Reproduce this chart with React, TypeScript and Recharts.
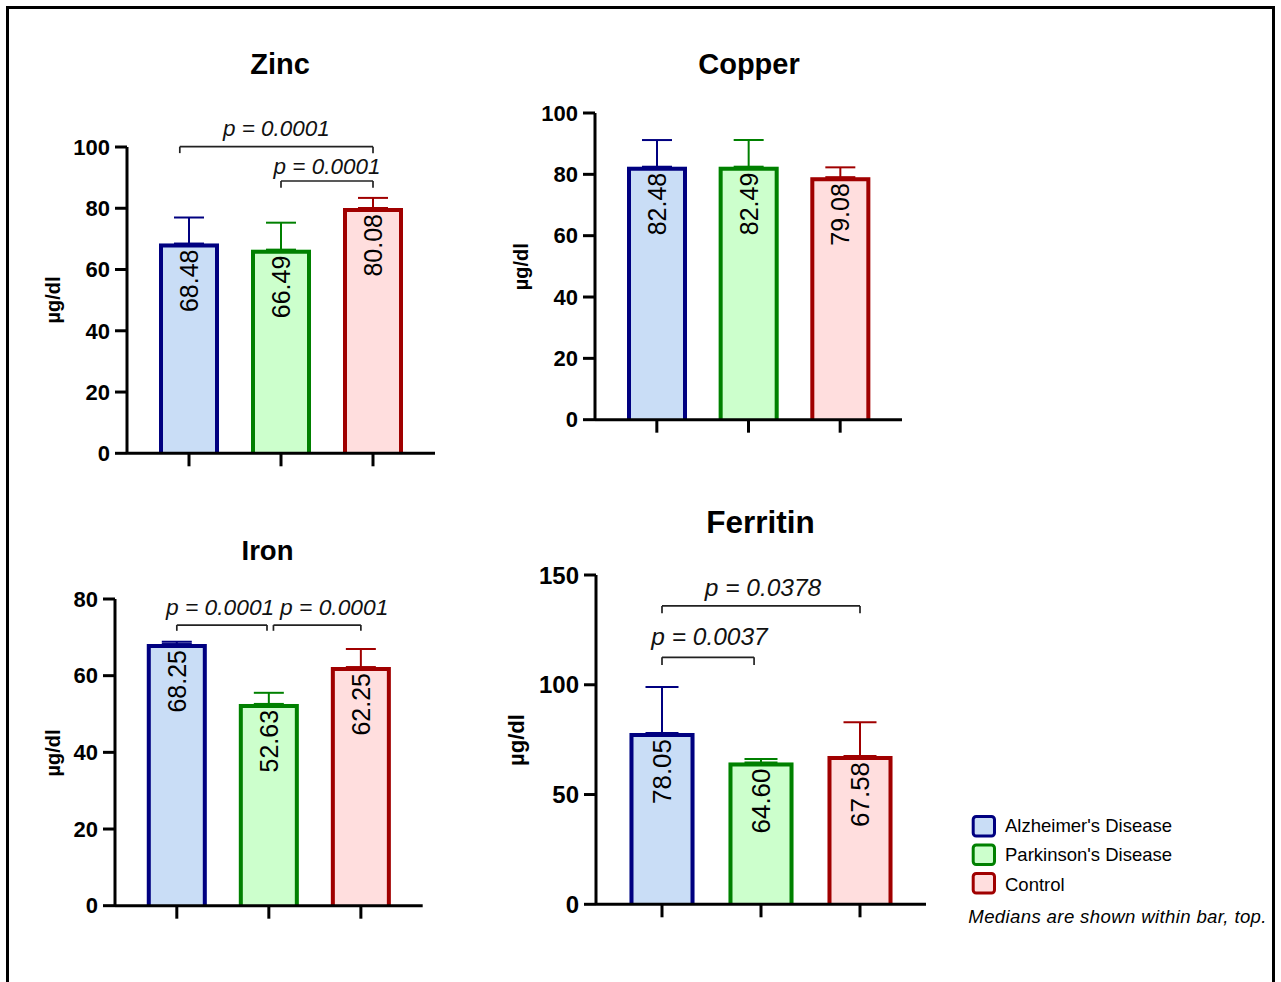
import React from 'react';
import { BarChart, Bar, XAxis, YAxis, ErrorBar, LabelList, ReferenceLine, ReferenceDot } from 'recharts';

// ---- data ----
const groupNames = ["Alzheimer's Disease", "Parkinson's Disease", 'Control'];
const groupKeys = ['AD', 'PD', 'CTL'];

const zincMedians = [68.48, 66.49, 80.08];
const zincUpperErr = [8.5, 8.8, 3.3];
const copperMedians = [82.48, 82.49, 79.08];
const copperUpperErr = [8.7, 8.7, 3.2];
const ironMedians = [68.25, 52.63, 62.25];
const ironUpperErr = [0.6, 2.9, 4.7];
const ferritinMedians = [78.05, 64.6, 67.58];
const ferritinUpperErr = [20.9, 1.6, 15.3];

const zincTicks = [0, 20, 40, 60, 80, 100];
const copperTicks = [0, 20, 40, 60, 80, 100];
const ironTicks = [0, 20, 40, 60, 80];
const ferritinTicks = [0, 50, 100, 150];

// significance brackets: from/to in group index units, y = bracket height, drop = tick length, label position
const zincBrackets = [
  { from: -0.1, to: 2, y: 100.1, drop: 2.1, p: 'p = 0.0001', tx: 0.95, ty: 103.6 },
  { from: 1, to: 2, y: 88.9, drop: 2.2, p: 'p = 0.0001', tx: 1.5, ty: 91.3 },
];
const copperBrackets: any[] = [];
const ironBrackets = [
  { from: 0, to: 0.98, y: 73.2, drop: 1.5, p: 'p = 0.0001', tx: 0.47, ty: 75.8 },
  { from: 1.05, to: 2, y: 73.2, drop: 1.5, p: 'p = 0.0001', tx: 1.71, ty: 75.8 },
];
const ferritinBrackets = [
  { from: 0, to: 2, y: 135.9, drop: 3.3, p: 'p = 0.0378', tx: 1.02, ty: 140.4 },
  { from: 0, to: 0.93, y: 112.5, drop: 3.5, p: 'p = 0.0037', tx: 0.48, ty: 118.1 },
];

// ---- styles ----
const groupFills = ['#c9ddf6', '#ccffcc', '#ffdede'];
const groupStrokes = ['#000080', '#008000', '#a00000'];
const FONT = '"Liberation Sans", Arial, Helvetica, sans-serif';

type PanelProps = {
  values: number[];
  errs: number[];
  brackets: any[];
  domain: [number, number];
  ticks: number[];
  box: { L: number; T: number; R: number; B: number };
  pad: number;
  barSize: number;
  tickFont: number;
  valueFont: number;
  pFont: number;
  capHalf: number;
};

function Panel({ values, errs, brackets, domain, ticks, box, pad, barSize, tickFont, valueFont, pFont, capHalf }: PanelProps) {
  const { L, T, R, B } = box;
  const mTop = 110, mLeft = 20, yW = 80, mRight = 10, mBottom = 10, xH = 30;
  const width = R - L + mLeft + yW + mRight;
  const height = B - T + mTop + mBottom + xH;
  const plotW = R - L;
  const band = (plotW - 2 * pad) / 3;
  const d0 = -0.5 - pad / band;
  const d1 = 2.5 + pad / band;
  const data = values.map((v, i) => {
    const row: any = { group: groupKeys[i], idx: i, value: v };
    row['err' + groupKeys[i]] = [0, errs[i]];
    return row;
  });

  const renderBar = (p: any) => {
    const i = p.index;
    const sw = 4;
    const x0 = p.x + sw / 2;
    const x1 = p.x + p.width - sw / 2;
    const yt = p.y + sw / 2;
    const yb = p.y + p.height;
    return (
      <g>
        <rect x={p.x} y={p.y} width={p.width} height={p.height} fill={groupFills[i]} stroke="none" />
        <path d={`M${x0},${yb} L${x0},${yt} L${x1},${yt} L${x1},${yb}`} fill="none" stroke={groupStrokes[i]} strokeWidth={sw} strokeLinejoin="miter" />
      </g>
    );
  };

  const renderValueLabel = (props: any) => {
    const { x, y, width: w, value } = props;
    const cx = Number(x) + Number(w) / 2;
    const ty = Number(y) + 6;
    return (
      <text
        x={cx}
        y={ty}
        transform={`rotate(-90 ${cx} ${ty})`}
        textAnchor="end"
        dominantBaseline="central"
        fontSize={valueFont}
        fontFamily={FONT}
        fill="#000"
      >
        {Number(value).toFixed(2)}
      </text>
    );
  };

  const bracketEls: any[] = [];
  brackets.forEach((b, i) => {
    const st = { stroke: '#222', strokeWidth: 1.7 };
    bracketEls.push(
      <ReferenceLine key={`h${i}`} xAxisId="n" ifOverflow="visible" segment={[{ x: b.from, y: b.y }, { x: b.to, y: b.y }]} {...st} />,
      <ReferenceLine key={`l${i}`} xAxisId="n" ifOverflow="visible" segment={[{ x: b.from, y: b.y }, { x: b.from, y: b.y - b.drop }]} {...st} />,
      <ReferenceLine key={`r${i}`} xAxisId="n" ifOverflow="visible" segment={[{ x: b.to, y: b.y }, { x: b.to, y: b.y - b.drop }]} {...st} />,
      <ReferenceDot
        key={`t${i}`}
        xAxisId="n"
        x={b.tx}
        y={b.ty}
        r={0}
        fill="none"
        stroke="none"
        ifOverflow="visible"
        label={{ value: b.p, position: 'top', offset: 0, fontSize: pFont, fontStyle: 'italic', fill: '#111', fontFamily: FONT }}
      />
    );
  });

  return (
    <div style={{ position: 'absolute', left: L - mLeft - yW, top: T - mTop }}>
      <BarChart width={width} height={height} data={data} margin={{ top: mTop, left: mLeft, right: mRight, bottom: mBottom }}>
        <XAxis
          dataKey="group"
          type="category"
          padding={{ left: pad, right: pad }}
          height={xH}
          tickSize={13}
          interval={0}
          tickFormatter={() => ''}
          axisLine={{ stroke: '#000', strokeWidth: 3 }}
          tickLine={{ stroke: '#000', strokeWidth: 3 }}
        />
        <XAxis xAxisId="n" type="number" dataKey="idx" domain={[d0, d1]} hide allowDataOverflow />
        <YAxis
          domain={domain}
          ticks={ticks}
          width={yW}
          interval={0}
          allowDataOverflow
          tickSize={12}
          tickMargin={5}
          tick={{ fontSize: tickFont, fontWeight: 'bold', fill: '#000', fontFamily: FONT }}
          axisLine={{ stroke: '#000', strokeWidth: 3 }}
          tickLine={{ stroke: '#000', strokeWidth: 3 }}
        />
        <Bar dataKey="value" barSize={barSize} isAnimationActive={false} shape={renderBar}>
          {groupKeys.map((k, i) => (
            <ErrorBar key={k} dataKey={'err' + k} width={capHalf} strokeWidth={2} stroke={groupStrokes[i]} direction="y" isAnimationActive={false} />
          ))}
          <LabelList dataKey="value" content={renderValueLabel} />
        </Bar>
        {bracketEls}
      </BarChart>
    </div>
  );
}

function Overlay() {
  return (
    <svg width={1281} height={982} style={{ position: 'absolute', left: 0, top: 0 }} fontFamily={FONT}>
      <rect x={7.5} y={7.5} width={1266} height={1010} fill="none" stroke="#000" strokeWidth={3} />
      {/* titles */}
      <text x={280} y={74} textAnchor="middle" fontSize={29} fontWeight="bold">Zinc</text>
      <text x={749} y={74} textAnchor="middle" fontSize={29} fontWeight="bold">Copper</text>
      <text x={267.5} y={560} textAnchor="middle" fontSize={27.5} fontWeight="bold">Iron</text>
      <text x={760.5} y={533} textAnchor="middle" fontSize={31.5} fontWeight="bold">Ferritin</text>
      {/* y labels */}
      <text x={59.5} y={300} transform="rotate(-90 59.5 300)" textAnchor="middle" fontSize={20} fontWeight="bold">µg/dl</text>
      <text x={528} y={266.7} transform="rotate(-90 528 266.7)" textAnchor="middle" fontSize={20} fontWeight="bold">µg/dl</text>
      <text x={59.5} y={753} transform="rotate(-90 59.5 753)" textAnchor="middle" fontSize={20} fontWeight="bold">µg/dl</text>
      <text x={524} y={740} transform="rotate(-90 524 740)" textAnchor="middle" fontSize={22} fontWeight="bold">µg/dl</text>
      {/* legend */}
      {groupNames.map((name, i) => (
        <g key={name}>
          <rect x={973.2} y={816.5 + i * 28.5} width={21.3} height={19.5} rx={3} fill={groupFills[i]} stroke={groupStrokes[i]} strokeWidth={3} />
          <text x={1005} y={831.7 + i * 29.6} fontSize={18.5} fill="#000">{name}</text>
        </g>
      ))}
      <text x={968.3} y={923.3} fontSize={18.6} letterSpacing={0.36} fontStyle="italic" fill="#000">Medians are shown within bar, top.</text>
    </svg>
  );
}

export default function App() {
  return (
    <div style={{ position: 'absolute', left: 0, top: 0, width: 1281, height: 982, background: '#fff', overflow: 'hidden', fontFamily: FONT }}>
      <Overlay />
      <Panel values={zincMedians} errs={zincUpperErr} brackets={zincBrackets} domain={[0, 100]} ticks={zincTicks}
        box={{ L: 127, T: 147, R: 435, B: 453.3 }} pad={16} barSize={60} tickFont={22} valueFont={25} pFont={22.5} capHalf={15} />
      <Panel values={copperMedians} errs={copperUpperErr} brackets={copperBrackets} domain={[0, 100]} ticks={copperTicks}
        box={{ L: 595, T: 113.3, R: 902, B: 420 }} pad={16} barSize={60} tickFont={22} valueFont={25} pFont={22.5} capHalf={15} />
      <Panel values={ironMedians} errs={ironUpperErr} brackets={ironBrackets} domain={[0, 80]} ticks={ironTicks}
        box={{ L: 115, T: 599, R: 422.7, B: 905.7 }} pad={15.8} barSize={60} tickFont={22} valueFont={25} pFont={22.8} capHalf={15} />
      <Panel values={ferritinMedians} errs={ferritinUpperErr} brackets={ferritinBrackets} domain={[0, 150]} ticks={ferritinTicks}
        box={{ L: 596, T: 575, R: 926, B: 904.3 }} pad={16.5} barSize={65} tickFont={24} valueFont={26} pFont={24.5} capHalf={16.5} />
    </div>
  );
}
